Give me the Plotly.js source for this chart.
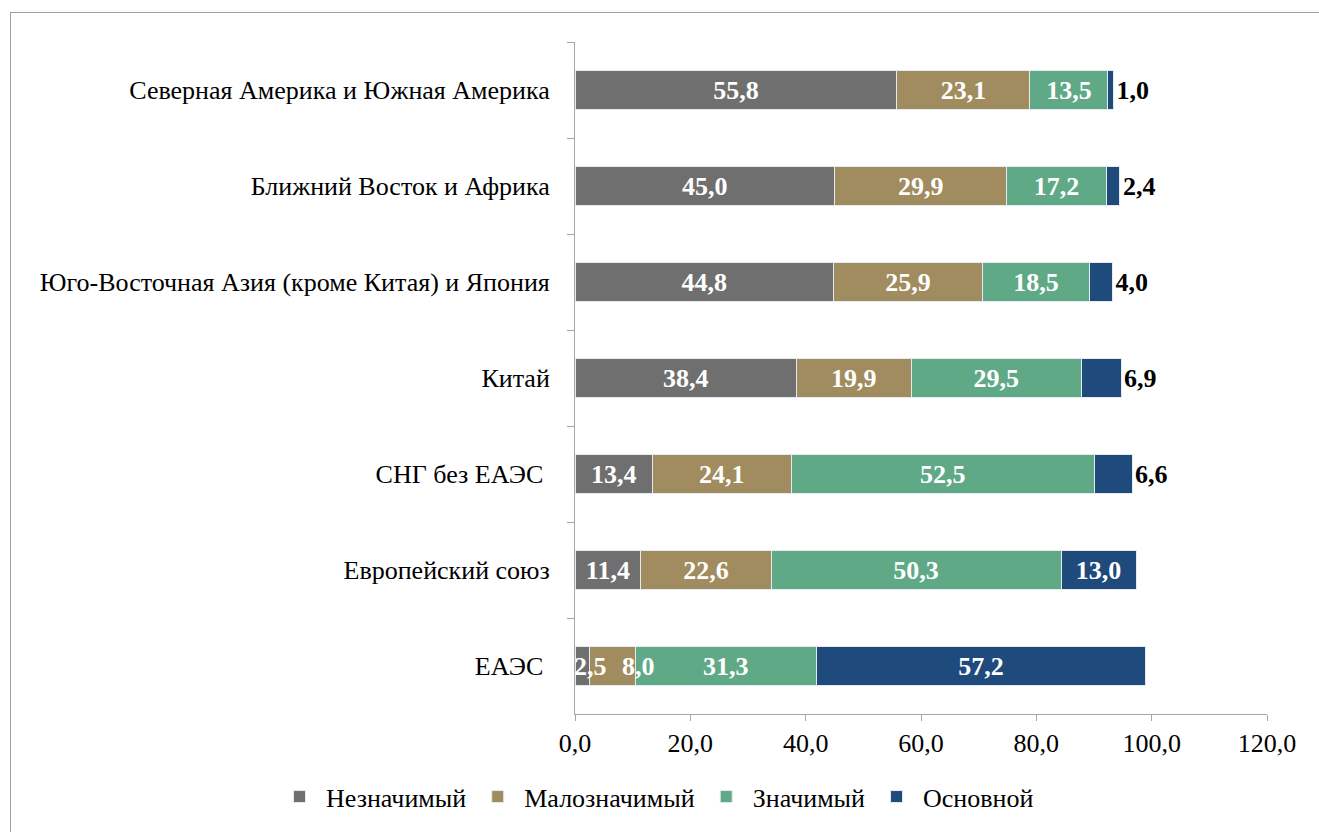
<!DOCTYPE html>
<html>
<head>
<meta charset="utf-8">
<script src="https://cdn.plot.ly/plotly-3.0.1.min.js"></script>
<style>
  html, body { margin: 0; padding: 0; background: #fff; }
  #wrap { position: relative; width: 1319px; height: 832px; }
  #chart { width: 1319px; height: 832px; }
  #frame { position: absolute; left: 10px; top: 12px; right: 0; bottom: 0;
           border-left: 1px solid #a0a0a0; border-top: 1px solid #a0a0a0; pointer-events: none; }
</style>
</head>
<body>
<div id="wrap">
  <div id="chart"></div>
  <div id="frame"></div>
</div>
<script>
// Categories, top to bottom
const categories = [
  "Северная Америка и Южная Америка",
  "Ближний Восток и Африка",
  "Юго-Восточная Азия (кроме Китая) и Япония",
  "Китай",
  "СНГ без ЕАЭС\u00a0",
  "Европейский союз",
  "ЕАЭС\u00a0"
];
const seriesNames = ["Незначимый", "Малозначимый", "Значимый", "Основной"];
const insignificant = [55.8, 45.0, 44.8, 38.4, 13.4, 11.4, 2.5];
const minor        = [23.1, 29.9, 25.9, 19.9, 24.1, 22.6, 8.0];
const significant  = [13.5, 17.2, 18.5, 29.5, 52.5, 50.3, 31.3];
const mainShare    = [1.0, 2.4, 4.0, 6.9, 6.6, 13.0, 57.2];
const mainLabelPos = ["outside", "outside", "outside", "outside", "outside", "inside", "inside"];

const colors = ["#6f6f6f", "#a08c5e", "#5fa986", "#1f4a7c"];
const FONT = "Liberation Serif, Times New Roman, serif";
const fmt = v => v.toFixed(1).replace(".", ",");

const seriesData = [insignificant, minor, significant, mainShare];
const crowdedRow = categories.length - 1;   // ЕАЭС: first two labels are nudged right, as in the original

// Coloured bars (no text)
const barTraces = seriesData.map((vals, i) => ({
  type: "bar",
  orientation: "h",
  name: seriesNames[i],
  y: categories,
  x: vals,
  marker: { color: colors[i], line: { color: "#e4ebf3", width: 1 } },
  hoverinfo: "x+name"
}));

// Transparent copies on an overlaid subplot that carry the value labels above all bars
const labelTraces = seriesData.map((vals, i) => ({
  type: "bar",
  orientation: "h",
  name: seriesNames[i],
  showlegend: false,
  xaxis: "x2",
  yaxis: "y2",
  y: categories,
  x: vals,
  text: vals.map((v, k) => (i < 2 && k === crowdedRow) ? "" : fmt(v)),
  textposition: i === 3 ? mainLabelPos : "inside",
  insidetextanchor: "middle",
  textangle: 0,
  constraintext: "none",
  cliponaxis: false,
  insidetextfont: { family: FONT, size: 26, color: "#ffffff", weight: "bold" },
  outsidetextfont: { family: FONT, size: 26, color: "#000000", weight: "bold" },
  marker: { color: "rgba(0,0,0,0)", line: { width: 0 } },
  hoverinfo: "skip"
}));

// The two crowded labels of the ЕАЭС row, placed at their segment centres and nudged right
const nudges = [8, 26];
const annotations = [0, 1].map(i => {
  const before = i === 0 ? 0 : insignificant[crowdedRow];
  const v = seriesData[i][crowdedRow];
  return {
    x: before + v / 2, y: categories[crowdedRow], xref: "x", yref: "y",
    text: fmt(v), showarrow: false, xshift: nudges[i],
    font: { family: FONT, size: 26, color: "#ffffff", weight: "bold" }
  };
});

const layout = {
  width: 1319,
  height: 832,
  barmode: "stack",
  bargap: 0.585,
  separators: ", ",
  paper_bgcolor: "#ffffff",
  plot_bgcolor: "#ffffff",
  margin: { l: 575, r: 52, t: 42, b: 115 },
  font: { family: FONT, size: 26, color: "#000000" },
  showlegend: true,
  legend: {
    orientation: "h",
    xref: "paper", yref: "paper",
    x: -0.4364, xanchor: "left",
    y: -0.123, yanchor: "middle",
    font: { family: FONT, size: 26, color: "#000000" },
    traceorder: "normal",
    itemwidth: 43
  },
  annotations: annotations,
  xaxis: {
    range: [0, 120],
    dtick: 20,
    tick0: 0,
    tickformat: ".1f",
    showgrid: false,
    zeroline: false,
    showline: true,
    linecolor: "#a6a6a6",
    linewidth: 1,
    ticks: "outside",
    ticklen: 6,
    tickcolor: "#a6a6a6",
    tickfont: { family: FONT, size: 26, color: "#000000" }
  },
  yaxis: {
    type: "category",
    autorange: "reversed",
    tickson: "boundaries",
    ticks: "outside",
    ticklen: 7,
    tickcolor: "#a6a6a6",
    showline: true,
    linecolor: "#a6a6a6",
    linewidth: 1,
    showgrid: false,
    zeroline: false,
    ticklabelstandoff: 19,
    tickfont: { family: FONT, size: 26, color: "#000000" }
  },
  xaxis2: { overlaying: "x", matches: "x", visible: false, range: [0, 120] },
  yaxis2: { overlaying: "y", matches: "y", visible: false, type: "category", autorange: "reversed" }
};

Plotly.newPlot("chart", barTraces.concat(labelTraces), layout, { displayModeBar: false, staticPlot: true });
</script>
</body>
</html>
